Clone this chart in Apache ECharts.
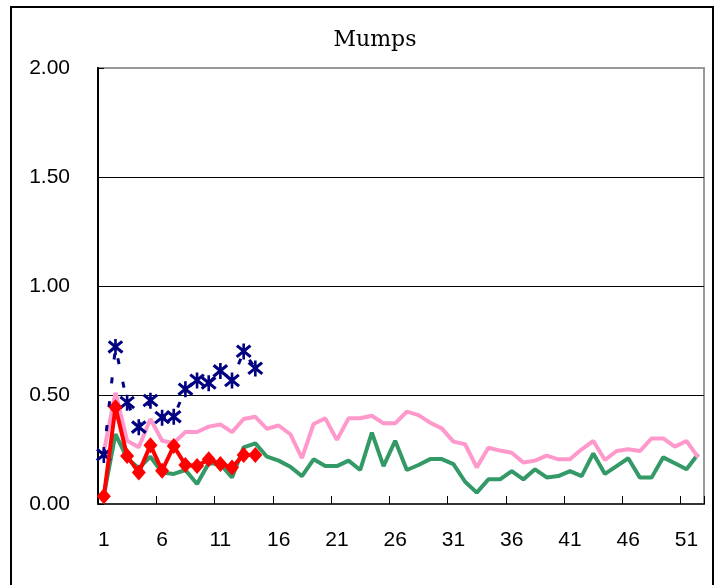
<!DOCTYPE html>
<html>
<head>
<meta charset="utf-8">
<script src="https://cdn.jsdelivr.net/npm/echarts@6/dist/echarts.min.js"></script>
<style>
  html, body { margin: 0; padding: 0; background: #fff; }
  #chart { width: 723px; height: 585px; }
</style>
</head>
<body>
<div id="chart"></div>
<script>
// Week numbers 1..52
var weeks = [];
for (var w = 1; w <= 52; w++) weeks.push(String(w));

var yTicks = [0, 0.5, 1.0, 1.5, 2.0];

// Pink line (no markers)
var pinkSeries = [0.24, 0.51, 0.29, 0.26, 0.39, 0.29, 0.28, 0.33, 0.33, 0.355,
  0.365, 0.33, 0.39, 0.40, 0.345, 0.36, 0.32, 0.21, 0.367, 0.393,
  0.294, 0.393, 0.393, 0.405, 0.37, 0.37, 0.424, 0.408, 0.373, 0.347,
  0.286, 0.274, 0.168, 0.258, 0.245, 0.235, 0.19, 0.199, 0.222, 0.205,
  0.205, 0.251, 0.289, 0.202, 0.243, 0.251, 0.243, 0.301, 0.301, 0.263,
  0.289, 0.214];

// Green line (no markers)
var greenSeries = [0.04, 0.32, 0.21, 0.164, 0.217, 0.144, 0.138, 0.156, 0.092, 0.187,
  0.183, 0.122, 0.26, 0.278, 0.217, 0.199, 0.171, 0.128, 0.205, 0.174,
  0.174, 0.199, 0.156, 0.327, 0.174, 0.29, 0.156, 0.179, 0.206, 0.206,
  0.183, 0.102, 0.052, 0.113, 0.113, 0.151, 0.113, 0.159, 0.122, 0.128,
  0.151, 0.128, 0.232, 0.138, 0.174, 0.21, 0.121, 0.121, 0.214, 0.187,
  0.159, 0.229];

// Navy asterisks (dashed line)
var navySeries = [0.225, 0.72, 0.465, 0.352, 0.474, 0.396, 0.40, 0.526, 0.567, 0.554,
  0.61, 0.566, 0.70, 0.622];

// Red diamonds
var redSeries = [0.035, 0.444, 0.22, 0.144, 0.27, 0.153, 0.266, 0.179, 0.174, 0.205,
  0.183, 0.168, 0.225, 0.225];

var asteriskPath = 'path://M42,0L58,0L58,100L42,100Z' +
  'M14.9,6.8L98.9,76.8L86.6,91.5L2.6,21.5Z' +
  'M85.1,6.8L97.4,21.5L13.4,91.5L1.1,76.8Z';

var chart = echarts.init(document.getElementById('chart'), null, { renderer: 'canvas' });

var labelFont = 'Liberation Sans, Arial, sans-serif';

chart.setOption({
  animation: false,
  backgroundColor: '#ffffff',
  title: {
    text: 'Mumps',
    left: 370,
    top: 24,
    textAlign: 'center',
    textStyle: { fontFamily: 'DejaVu Serif, serif', fontSize: 22, fontWeight: 'normal', color: '#000' }
  },
  graphic: [{
    type: 'rect',
    z: -10,
    shape: { x: 11, y: 7, width: 702, height: 620 },
    style: { fill: 'none', stroke: '#000', lineWidth: 2 }
  }],
  grid: {
    left: 98, right: 19, top: 68, bottom: 81,
    show: true, borderColor: '#999', borderWidth: 2, backgroundColor: 'transparent'
  },
  xAxis: {
    type: 'category',
    data: weeks,
    boundaryGap: true,
    axisLine: { show: true, lineStyle: { color: '#333', width: 2 } },
    axisTick: { show: true, inside: true, interval: 4, length: 8, lineStyle: { color: '#000', width: 1 } },
    axisLabel: { interval: 4, margin: 26, fontFamily: labelFont, fontSize: 21, color: '#000' },
    splitLine: { show: false }
  },
  yAxis: {
    type: 'value',
    min: yTicks[0],
    max: yTicks[yTicks.length - 1],
    interval: 0.5,
    axisLine: { show: true, lineStyle: { color: '#000', width: 2 } },
    axisTick: { show: true, inside: true, length: 6, lineStyle: { color: '#000' } },
    axisLabel: {
      margin: 28, fontFamily: labelFont, fontSize: 21, color: '#000',
      formatter: function (v) { return v.toFixed(2); }
    },
    splitLine: { show: true, lineStyle: { color: ['#000', '#000', '#000', '#000', '#999'], width: 1 } }
  },
  series: [
    {
      type: 'line', data: greenSeries, showSymbol: false, symbol: 'none',
      lineStyle: { color: '#339966', width: 4 }, z: 2
    },
    {
      type: 'line', data: pinkSeries, showSymbol: false, symbol: 'none',
      lineStyle: { color: '#FF99CC', width: 4 }, z: 3
    },
    {
      type: 'line', data: navySeries, symbol: asteriskPath, symbolSize: 16,
      showSymbol: true, showAllSymbol: true,
      itemStyle: { color: '#000080' },
      lineStyle: { color: '#000080', width: 3, type: [6, 18] }, z: 4
    },
    {
      type: 'line', data: redSeries, symbol: 'diamond', symbolSize: [14, 16],
      showSymbol: true, showAllSymbol: true,
      itemStyle: { color: '#FF0000' },
      lineStyle: { color: '#FF0000', width: 4 }, z: 5
    }
  ]
});
</script>
</body>
</html>
